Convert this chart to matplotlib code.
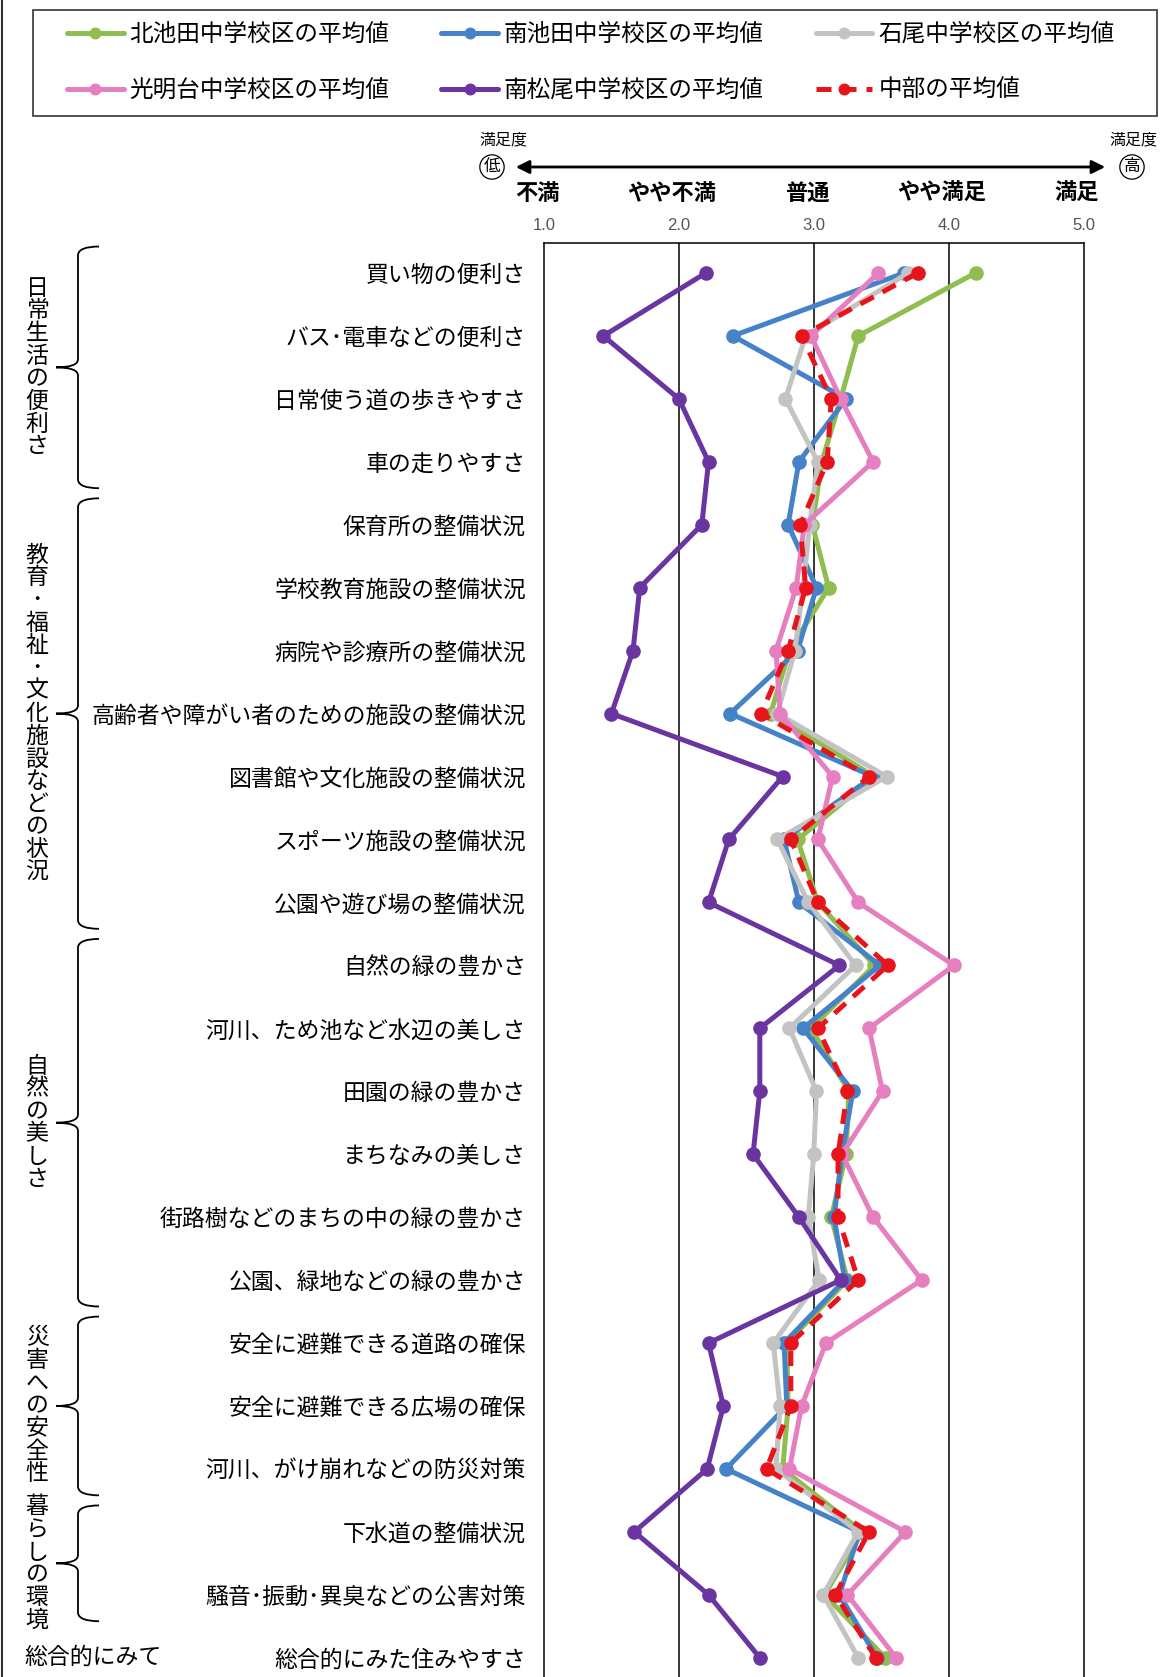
import numpy as np
import matplotlib
matplotlib.use("Agg")
from matplotlib import pyplot as plt
from matplotlib.path import Path
from matplotlib.patches import PathPatch, Rectangle
from matplotlib.lines import Line2D
import matplotlib.transforms as mtransforms

plt.rcParams['font.family'] = ['Noto Sans CJK JP', 'DejaVu Sans']

# items (top to bottom)
items = ['買い物の便利さ', 'バス･電車などの便利さ', '日常使う道の歩きやすさ', '車の走りやすさ',
         '保育所の整備状況', '学校教育施設の整備状況', '病院や診療所の整備状況',
         '高齢者や障がい者のための施設の整備状況', '図書館や文化施設の整備状況',
         'スポーツ施設の整備状況', '公園や遊び場の整備状況', '自然の緑の豊かさ',
         '河川、ため池など水辺の美しさ', '田園の緑の豊かさ', 'まちなみの美しさ',
         '街路樹などのまちの中の緑の豊かさ', '公園、緑地などの緑の豊かさ',
         '安全に避難できる道路の確保', '安全に避難できる広場の確保',
         '河川、がけ崩れなどの防災対策', '下水道の整備状況',
         '騒音･振動･異臭などの公害対策', '総合的にみた住みやすさ']

# group name, first row, last row
groups = [('日常生活の便利さ', 0, 3), ('教育･福祉･文化施設などの状況', 4, 10),
          ('自然の美しさ', 11, 16), ('災害への安全性', 17, 19), ('暮らしの環境', 20, 21)]
last_group = '総合的にみて'

scale_words = ['不満', 'やや不満', '普通', 'やや満足', '満足']
scale_vals = [1, 2, 3, 4, 5]
scale_ticks = ['1.0', '2.0', '3.0', '4.0', '5.0']

# mean satisfaction per school district
kita_ikeda = [4.20, 3.33, 3.20, 3.06, 2.99, 3.11, 2.82, 2.68, 3.45, 2.88, 3.03, 3.45,
              2.98, 3.26, 3.24, 3.13, 3.25, 2.80, 2.81, 2.77, 3.36, 3.08, 3.53]
minami_ikeda = [3.67, 2.40, 3.24, 2.89, 2.81, 3.02, 2.88, 2.38, 3.44, 2.78, 2.89, 3.49,
                2.92, 3.29, 3.21, 3.15, 3.23, 2.78, 2.80, 2.35, 3.34, 3.19, 3.47]
ishio = [3.70, 2.94, 2.79, 3.03, 2.97, 2.92, 2.86, 2.73, 3.54, 2.73, 2.96, 3.31,
         2.82, 3.02, 3.00, 2.96, 3.04, 2.70, 2.75, 2.72, 3.33, 3.07, 3.33]
koumyoudai = [3.48, 2.98, 3.20, 3.44, 2.93, 2.87, 2.72, 2.75, 3.14, 3.03, 3.33, 4.04,
              3.41, 3.51, 3.21, 3.44, 3.80, 3.09, 2.91, 2.82, 3.68, 3.25, 3.61]
minami_matsuo = [2.20, 1.44, 2.00, 2.22, 2.17, 1.71, 1.66, 1.50, 2.77, 2.37, 2.22, 3.19,
                 2.60, 2.60, 2.55, 2.89, 3.20, 2.22, 2.33, 2.21, 1.67, 2.22, 2.60]
chubu = [3.77, 2.91, 3.13, 3.10, 2.90, 2.94, 2.81, 2.61, 3.41, 2.83, 3.03, 3.55,
         3.03, 3.25, 3.18, 3.18, 3.33, 2.83, 2.83, 2.65, 3.41, 3.16, 3.46]

series = [
    ('北池田中学校区の平均値', kita_ikeda, '#8fbd4f', '-'),
    ('南池田中学校区の平均値', minami_ikeda, '#4682c8', '-'),
    ('石尾中学校区の平均値', ishio, '#c3c3c3', '-'),
    ('光明台中学校区の平均値', koumyoudai, '#e57fbf', '-'),
    ('南松尾中学校区の平均値', minami_matsuo, '#6a35a0', '-'),
    ('中部の平均値', chubu, '#e8141c', (0, (3, 2))),
]

W, H = 1160, 1677
fig = plt.figure(figsize=(W / 100, H / 100), dpi=100)

def fx(x):
    return x / W

def fy(y):
    return 1 - y / H

ax = fig.add_axes([fx(544), 0.0, fx(1083.5) - fx(544), fy(243)])
y = np.arange(len(items))

handles = []
for name, vals, col, ls in series:
    ln, = ax.plot(vals, y, color=col, lw=3.6, ls=ls, marker='o', ms=9.5,
                  mec=col, mfc=col, label=name, solid_capstyle='round')
    handles.append(ln)

ax.set_xlim(1, 5)
ax.set_ylim(22.306, -0.476)
ax.set_yticks(y)
ax.set_yticklabels(items, fontsize=16.5)
ax.tick_params(axis='y', length=0, pad=13)
ax.xaxis.tick_top()
ax.set_xticks(scale_vals)
ax.set_xticklabels(scale_ticks, fontsize=12, color='#555555', family='Liberation Sans')
ax.tick_params(axis='x', length=0, pad=7)
for v in scale_vals[1:-1]:
    ax.axvline(v, color='black', lw=1.1, zorder=0)
for s in ['left', 'right', 'top']:
    ax.spines[s].set_linewidth(1.1)
ax.spines['bottom'].set_visible(False)

# scale words above the tick numbers
tr_xfig = mtransforms.blended_transform_factory(ax.transData, fig.transFigure)
for v, w in zip(scale_vals, scale_words):
    ax.text(v - 0.05, fy(193), w, transform=tr_xfig, ha='center', va='center',
            fontsize=16, fontweight='bold', clip_on=False)

# double arrow and 満足度 markers
ax.annotate('', xy=(fx(1108), fy(167)), xytext=(fx(513), fy(167)),
            xycoords='figure fraction', textcoords='figure fraction',
            arrowprops=dict(arrowstyle='<|-|>', color='black', lw=2, mutation_scale=20))
fig.text(fx(503), fy(140), '満足度', ha='center', va='center', fontsize=11.5)
fig.text(fx(1133), fy(140), '満足度', ha='center', va='center', fontsize=11.5)
circ = dict(boxstyle='circle,pad=0.22', fc='white', ec='black', lw=0.9)
fig.text(fx(492), fy(167), '低', ha='center', va='center', fontsize=12, bbox=circ)
fig.text(fx(1132), fy(167), '高', ha='center', va='center', fontsize=12, bbox=circ)

# group braces and labels
tr_fig_y = mtransforms.blended_transform_factory(fig.transFigure, ax.transData)
xl, xm, xr = fx(56), fx(78), fx(99)
for name, r0, r1 in groups:
    y0, y1 = r0 - 0.42, r1 + 0.42
    ym = (r0 + r1) / 2
    d = 0.13
    verts = [(xr, y0), (xm + 0.001, y0), (xm, y0 + d),
             (xm, ym - d),
             (xm, ym), (xl, ym),
             (xm, ym), (xm, ym + d),
             (xm, y1 - d),
             (xm + 0.001, y1), (xr, y1)]
    codes = [Path.MOVETO, Path.CURVE3, Path.CURVE3,
             Path.LINETO,
             Path.CURVE3, Path.CURVE3,
             Path.CURVE3, Path.CURVE3,
             Path.LINETO,
             Path.CURVE3, Path.CURVE3]
    ax.add_patch(PathPatch(Path(verts, codes), transform=tr_fig_y, fill=False,
                           ec='black', lw=1.3, clip_on=False))
    ax.text(fx(37), ym, '\n'.join(name), transform=tr_fig_y, ha='center', va='center',
            fontsize=16.5, linespacing=0.98, clip_on=False)
ax.text(fx(24), 22, last_group, transform=tr_fig_y, ha='left', va='center',
        fontsize=16.5, clip_on=False)

# legend box
fig.add_artist(Rectangle((fx(33), fy(116)), fx(1157) - fx(33), fy(10) - fy(116),
                         transform=fig.transFigure, fill=False, ec='#444444', lw=1.3))
order = [0, 3, 1, 4, 2, 5]
fig.legend([handles[i] for i in order], [series[i][0] for i in order],
           loc='upper left', bbox_to_anchor=(fx(67), fy(23)), ncol=3, frameon=False,
           fontsize=17, handlelength=2.4, handletextpad=0.25, columnspacing=2.2,
           labelspacing=1.4, borderpad=0, borderaxespad=0, markerscale=0.8)

# outer left border
fig.add_artist(Line2D([fx(2), fx(2)], [0, 1], transform=fig.transFigure,
                      color='#333333', lw=1.5))

fig.savefig('out.png', dpi=100)
